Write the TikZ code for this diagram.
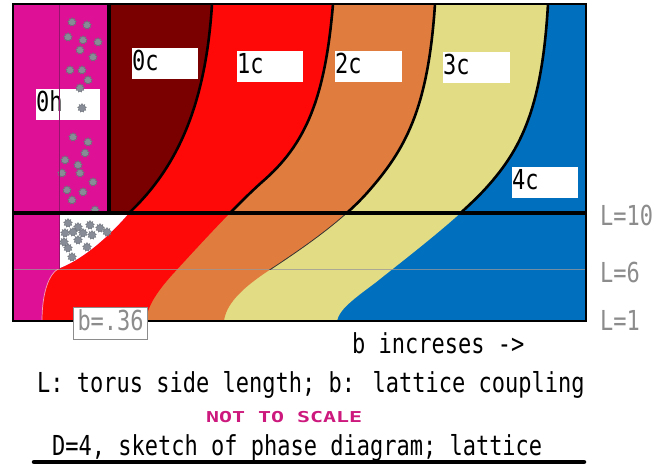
\documentclass[tikz,border=0pt]{standalone}
\usepackage{fontspec}
\usetikzlibrary{shapes.geometric}
\newfontfamily\fx[FakeStretch=0.8]{DejaVu Sans Mono}
\newfontfamily\fnts[FakeStretch=1.44]{DejaVu Sans Mono}
\definecolor{mag}{RGB}{222,16,150}
\definecolor{dred}{RGB}{122,0,0}
\definecolor{rred}{RGB}{255,8,8}
\definecolor{orng}{RGB}{224,125,62}
\definecolor{ylw}{RGB}{226,220,132}
\definecolor{blu}{RGB}{0,112,190}
\definecolor{blobc}{RGB}{135,140,150}
\definecolor{lgray}{RGB}{140,140,140}
\definecolor{ntsmag}{RGB}{205,25,125}
\definecolor{stripc}{RGB}{150,20,110}
\definecolor{edgepink}{RGB}{245,160,180}
\tikzset{
  curveA/.style={insert path={-- (212,4) .. controls (206,100) and (180,165) .. (129,213) .. controls (110,235) and (85,258) .. (60,268) .. controls (48,273) and (42,295) .. (42,321)}},
  curveB/.style={insert path={-- (333,4) .. controls (325,100) and (305,145) .. (262,182) .. controls (233,208) and (195,250) .. (172,275) .. controls (155,294) and (147,308) .. (146,321)}},
  curveC/.style={insert path={-- (435,4) .. controls (428,110) and (405,150) .. (367,193) .. controls (340,223) and (300,250) .. (265,273) .. controls (240,290) and (226,305) .. (224,321)}},
  curveD/.style={insert path={-- (548,4) .. controls (542,110) and (520,150) .. (487,187) .. controls (460,217) and (410,255) .. (375,283) .. controls (352,300) and (339,310) .. (337,321)}},
  bline/.style={line width=2.6, black},
  lbox/.style={fill=white, inner xsep=0, inner ysep=0, anchor=north west, minimum height=31,
    text height=20, text depth=7, align=left, font=\fx\fontsize{27.5}{30}\selectfont},
  mtext/.style={anchor=base west, inner sep=0, font=\fx\fontsize{27.5}{30}\selectfont},
  glabel/.style={mtext, text=lgray},
  blob/.style={star, star points=9, star point ratio=1.5, fill=blobc, draw=blobc!75!black, line width=0.3, minimum size=9, inner sep=0},
}
\begin{document}
\begin{tikzpicture}[x=1pt,y=-1pt]
\useasboundingbox (0,0) rectangle (654,466);
\fill[white] (0,0) rectangle (654,466);
% phase regions
\fill[blu] (13,4) rectangle (586,321);
\fill[ylw] (13,4) [curveD] -- (13,321) -- cycle;
\fill[orng] (13,4) [curveC] -- (13,321) -- cycle;
\fill[rred] (13,4) [curveB] -- (13,321) -- cycle;
\fill[mag] (13,4) [curveA] -- (13,321) -- cycle;
\begin{scope}
  \clip (13,4) [curveA] -- (13,321) -- cycle;
  \fill[dred] (110,4) rectangle (230,213);
  \fill[white] (59,213) rectangle (230,269);
\end{scope}
% 0h box (under the dots)
\node[lbox, text width=64] (l0h) at (36,89) {0h};
% dots
\foreach \p [count=\i] in {(72,22),(87,25),(68,37),(83,40),(98,42),(80,50),(93,57),(70,70),(82,70),(88,80),(80,88),(82,108),(73,137),(88,142),(85,153),(65,160),(78,165),(62,173),(80,173),(93,182),(67,190),(83,192),(72,200),(95,210),(68,223),(78,227),(90,225),(100,228),(107,232),(65,233),(73,232),(83,233),(92,235),(68,248),(87,247),(72,257),(64,242),(78,240)}
  \node[blob] (dot\i) at \p {};
% thin strip line
\draw[line width=0.8, stripc] (59,4) -- (59,269);
% L=6 line
\draw[line width=0.9, gray!80!white, opacity=0.75] (13,269) -- (586,269);
% boundary lines above L=10
\begin{scope}
  \clip (0,0) rectangle (654,213);
  \draw[bline] (212,4) [curveA];
  \draw[bline] (333,4) [curveB];
  \draw[bline] (435,4) [curveC];
  \draw[bline] (548,4) [curveD];
\end{scope}
\begin{scope}
  \clip (0,213) rectangle (654,269);
  \draw[line width=0.8, black!80] (435,4) [curveC];
\end{scope}
\begin{scope}
  \clip (0,269) rectangle (654,321);
  \draw[line width=0.7, edgepink] (212,4) [curveA];
\end{scope}
\draw[line width=4] (109,4) -- (109,213);
\draw[line width=3.5] (13,213) -- (586,213);
\draw[line width=1.2] (13,4) rectangle (586,321);
% phase labels
\node[lbox, text width=66] (l0c) at (132,48) {0c};
\node[lbox, text width=66] (l1c) at (237,51) {1c};
\node[lbox, text width=67] (l2c) at (335,51) {2c};
\node[lbox, text width=67] (l3c) at (443,52) {3c};
\node[lbox, text width=66] (l4c) at (512,167) {4c};
\node[lbox, draw=lgray, line width=1, text=lgray, text width=66, inner xsep=4, minimum height=32] (lb) at (73,307) {b=.36};
% L labels
\node[glabel] (L10) at (600,225) {L=10};
\node[glabel] (L6) at (600,282) {L=6};
\node[glabel] (L1) at (600,330) {L=1};
% bottom texts
\node[mtext] (binc) at (352,353) {b increses ->};
\node[mtext] (legend) at (37,392) {L: torus side length; b: lattice coupling};
\node[anchor=base west, inner sep=0, text=ntsmag, font=\fnts\bfseries\fontsize{15}{17}\selectfont] (nts) at (206,422) {NOT TO SCALE};
\node[mtext] (title) at (52,455) {D=4, sketch of phase diagram; lattice};
\coordinate (ulL) at (34,462);
\coordinate (ulR) at (584,462);
\draw[line width=4.5, line cap=round] (ulL) -- (ulR);
\end{tikzpicture}
\end{document}
